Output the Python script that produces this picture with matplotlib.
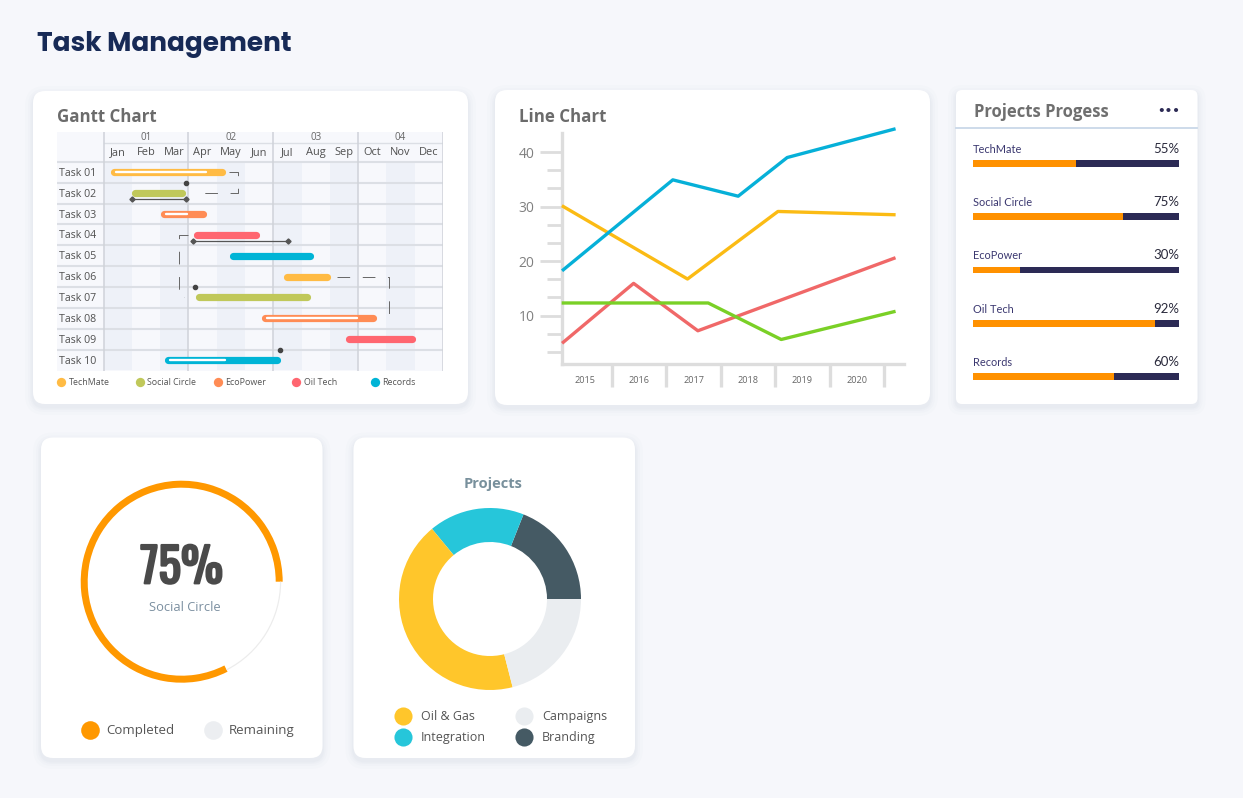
import matplotlib
matplotlib.use('Agg')
import matplotlib.pyplot as plt
from matplotlib.patches import FancyBboxPatch
import matplotlib.patheffects as pe
import numpy as np

# ---------------- data ----------------
months = ['Jan', 'Feb', 'Mar', 'Apr', 'May', 'Jun', 'Jul', 'Aug', 'Sep', 'Oct', 'Nov', 'Dec']
quarters = ['01', '02', '03', '04']
tasks = ['Task 01', 'Task 02', 'Task 03', 'Task 04', 'Task 05',
         'Task 06', 'Task 07', 'Task 08', 'Task 09', 'Task 10']
task_start = [0.25, 0.99, 2.02, 3.16, 4.45, 6.36, 3.24, 5.58, 8.54, 2.16]   # months from Jan 1
task_end = [4.32, 2.91, 3.65, 5.51, 7.42, 8.03, 7.33, 9.64, 11.02, 6.24]
task_project = [0, 1, 2, 3, 4, 0, 1, 2, 3, 4]
task_progress = [3.62, None, 2.95, None, None, None, None, 8.96, None, 4.29]
task_span = {1: (0.99, 2.91), 3: (3.16, 6.51)}           # underline spans
task_dot = {1: 2.91, 6: 3.24, 9: 6.24}                   # milestone dots
dependencies = [
    [(4.43, 0), (4.76, 0), (4.76, 1), (3.2, 1)],
    [(3.0, 3), (2.66, 3), (2.66, 6), (2.85, 6)],
    [(8.26, 5), (10.1, 5), (10.1, 7)],
]
projects = ['TechMate', 'Social Circle', 'EcoPower', 'Oil Tech', 'Records']
project_colors = ['#ffbb44', '#c0c85a', '#ff8c55', '#ff6670', '#00b4d6']

years = ['2015', '2016', '2017', '2018', '2019', '2020']
blue_x = [2014.61, 2016.62, 2017.82, 2018.72, 2020.68]
blue_y = [18.4, 34.9, 31.9, 39.0, 44.2]
yellow_x = [2014.61, 2016.89, 2018.55, 2020.68]
yellow_y = [30.0, 16.7, 29.1, 28.5]
red_x = [2014.61, 2015.90, 2017.08, 2020.68]
red_y = [5.1, 15.9, 7.2, 20.5]
green_x = [2014.61, 2017.27, 2018.61, 2020.68]
green_y = [12.3, 12.3, 5.6, 10.7]

progress_names = ['TechMate', 'Social Circle', 'EcoPower', 'Oil Tech', 'Records']
progress_labels = ['55%', '75%', '30%', '92%', '60%']
progress_fill = [0.50, 0.728, 0.227, 0.88, 0.684]

gauge_label = '75%'
gauge_name = 'Social Circle'
gauge_arc = [82.5, 17.5]
gauge_legend = ['Completed', 'Remaining']

donut_names = ['Branding', 'Integration', 'Oil & Gas', 'Campaigns']
donut_values = [19, 17, 43, 21]
donut_colors = ['#455a64', '#26c6da', '#ffc62b', '#eaedf0']
donut_legend = ['Oil & Gas', 'Campaigns', 'Integration', 'Branding']

# ---------------- figure ----------------
W, H = 1243, 798
fig = plt.figure(figsize=(W / 100, H / 100), dpi=100)
fig.patch.set_facecolor('#f6f7fb')
FONT = ['Open Sans', 'DejaVu Sans']
plt.rcParams['font.family'] = FONT

bg = fig.add_axes([0, 0, 1, 1])
bg.set_xlim(0, W)
bg.set_ylim(H, 0)
bg.axis('off')


def px_axes(x0, y0, x1, y1, z=2):
    a = fig.add_axes([x0 / W, 1 - y1 / H, (x1 - x0) / W, (y1 - y0) / H])
    a.set_zorder(z)
    return a


def card(x0, y0, x1, y1, r=12):
    for d, a in [(8, 0.018), (5, 0.025), (3, 0.03), (1.5, 0.035)]:
        bg.add_patch(FancyBboxPatch((x0 - d, y0 - d + 3), x1 - x0 + 2 * d, y1 - y0 + 2 * d,
                                    boxstyle=f"round,pad=0,rounding_size={r + d}",
                                    fc='#8c95b5', ec='none', alpha=a))
    bg.add_patch(FancyBboxPatch((x0, y0), x1 - x0, y1 - y0,
                                boxstyle=f"round,pad=0,rounding_size={r}",
                                fc='white', ec='none'))


card(33, 91, 468, 404)
card(495, 90, 930, 405)
card(956, 90, 1197.5, 404, r=6)
card(41, 437.5, 322.5, 758)
card(353.5, 437.5, 635, 758)

bg.text(37, 50.5, 'Task Management', fontsize=19, fontweight='bold', color='#172a56',
        family=['Poppins', 'Inter', 'DejaVu Sans'], va='baseline')

TITLE_C = '#6b6b6b'
bg.text(57, 122.3, 'Gantt Chart', fontsize=12.2, fontweight='bold', color=TITLE_C, va='baseline')
bg.text(519, 122.3, 'Line Chart', fontsize=12.2, fontweight='bold', color=TITLE_C, va='baseline')

# ---------------- Gantt ----------------
G_TOP = -1.913
ag = px_axes(57, 132.3, 443, 370.5)
ag.set_xlim(-1.65, 12)
ag.set_ylim(9.5, G_TOP)
ag.axis('off')
ag.bar(5.175, 9.5 - G_TOP, bottom=G_TOP, width=13.65, color='#f7f8fc', zorder=0)
ag.bar(np.arange(0, 12, 2) + 0.5, 10, bottom=-0.5, width=1, color='#eef1f8', zorder=0.5)
for k in range(10):
    ag.plot([-1.65, 12], [k - 0.5, k - 0.5], color='#dcdfe5', lw=1.5, zorder=1)
ag.plot([0, 12], [-1.415, -1.415], color='#dcdfe5', lw=1.0, zorder=1)
for q in range(5):
    ag.plot([3 * q, 3 * q], [G_TOP, 9.5], color='#cfd2d9', lw=1.1, zorder=1)
for m, name in enumerate(months):
    ag.text(m + 0.5, -0.96, name, ha='center', va='center', fontsize=7.9, color='#505050')
for q, name in enumerate(quarters):
    ag.text(3 * q + 1.5, -1.66, name, ha='center', va='center', fontsize=7.0, color='#666666')
for i, name in enumerate(tasks):
    ag.text(-1.58, i + 0.05, name, ha='left', va='center', fontsize=7.7, color='#505050')

cap = 3.5 / 28.28
for i in range(len(tasks)):
    c = project_colors[task_project[i]]
    ag.plot([task_start[i] + cap, task_end[i] - cap], [i, i], color=c, lw=5.2,
            solid_capstyle='round', zorder=4)
    if task_progress[i] is not None:
        ag.plot([task_start[i] + 0.2, task_progress[i]], [i, i], color='white', lw=1.7,
                solid_capstyle='round', zorder=5)
for i, (s, e) in task_span.items():
    ag.plot([s, e], [i + 0.28, i + 0.28], color='#555555', lw=0.9, zorder=4,
            marker='D', markersize=2.6, markevery=[0, 1])
for i, xv in task_dot.items():
    ag.plot([xv], [i - 0.5], marker='o', markersize=3.0, color='#444444', zorder=5)
for path in dependencies:
    xs, ys = zip(*path)
    ag.plot(xs, ys, color='#666666', lw=0.7, linestyle=(0, (13, 13)), zorder=3)

legend_x = [61.3, 139.7, 218, 296.3, 374.7]
for k, name in enumerate(projects):
    bg.scatter([legend_x[k]], [382], s=45, color=project_colors[k], zorder=3, linewidths=0)
    bg.text(legend_x[k] + 7.5, 382.3, name, fontsize=6.4, color='#555555', va='center', zorder=3)

# ---------------- Line chart ----------------
al = px_axes(561.7, 133, 904.3, 364)
al.set_xlim(2014.58, 2020.87)
al.set_ylim(1.1, 43.5)
al.set_facecolor('none')
for s in ['top', 'right']:
    al.spines[s].set_visible(False)
for s in ['left', 'bottom']:
    al.spines[s].set_color('#dddddd')
    al.spines[s].set_linewidth(2.4)
al.set_yticks([10, 20, 30, 40])
al.set_yticks([10 / 3 * k for k in range(1, 12) if k % 3 != 0], minor=True)
al.tick_params(axis='y', which='major', length=15.5, width=2.0, color='#dddddd',
               labelsize=10, labelcolor='#808080', pad=4)
al.tick_params(axis='y', which='minor', length=11, width=2.0, color='#dddddd')
al.set_xticks([2015.5 + k for k in range(6)])
al.set_xticklabels([])
al.set_xticks([2015 + k for k in range(6)], minor=True)
al.set_xticklabels(years, minor=True)
al.tick_params(axis='x', which='major', length=16.5, width=2.4, color='#dddddd')
al.tick_params(axis='x', which='minor', length=0, labelsize=6.6, labelcolor='#666666', pad=8.5)
LW = 2.4
al.plot(red_x, red_y, color='#f06868', lw=LW, zorder=3, clip_on=False)
al.plot(green_x, green_y, color='#7ad026', lw=LW, zorder=3, clip_on=False)
al.plot(yellow_x, yellow_y, color='#fbbb14', lw=LW, zorder=3, clip_on=False)
al.plot(blue_x, blue_y, color='#06b0d8', lw=LW, zorder=3, clip_on=False)

# ---------------- Projects progress ----------------
bg.text(974.3, 117.3, 'Projects Progess', fontsize=12, fontweight='bold', color='#6f6f6f',
        va='baseline')
bg.text(1180, 111.3, '\u2022\u2022\u2022', fontsize=8.5, fontweight='bold', color='#2d2b55',
        ha='right', va='center', family=['DejaVu Sans'])
bg.plot([956, 1197.5], [128.3, 128.3], color='#c9d8e8', lw=1.3)
ap = px_axes(973.3, 136.8, 1179.3, 136.8 + 53.3 * 5)
ap.set_xlim(0, 1)
ap.set_ylim(5, 0)
ap.axis('off')
idx = np.arange(len(progress_names))
ap.barh(idx + 0.5, [1.0] * len(idx), height=0.125, color='#2c2a55')
ap.barh(idx + 0.5, progress_fill, height=0.125, color='#ff9100')
for i in idx:
    ap.text(0, i + 0.298, progress_names[i], fontsize=7.9, color='#3b3870',
            family=['Lato', 'DejaVu Sans'], va='baseline')
    ap.text(1, i + 0.298, progress_labels[i], fontsize=9.5, color='#2a2a3c',
            family=['Lato', 'DejaVu Sans'], va='baseline', ha='right')

# ---------------- Gauge ----------------
cx, cy, R = 181.7, 581.7, 101
ak = px_axes(cx - 110, cy - 110, cx + 110, cy + 110)
ak.pie(gauge_arc, radius=1, startangle=0, counterclock=True, colors=['#ff9800', 'none'],
       wedgeprops=dict(width=7 / R, linewidth=0))
ak.pie(gauge_arc, radius=0.985, startangle=0, counterclock=True,
       colors=['none', '#ececec'], wedgeprops=dict(width=0.012, linewidth=0))
ak.set_xlim(-110 / R, 110 / R)
ak.set_ylim(-110 / R, 110 / R)
ak.set_aspect('equal')
bg.text(cx, 583.3, gauge_label, fontsize=34, color='#4a4a4a', ha='center', va='baseline',
        family=['Oswald', 'Liberation Sans Narrow', 'DejaVu Sans'], fontstretch='condensed',
        fontweight='bold', zorder=5,
        path_effects=[pe.withStroke(linewidth=1.6, foreground='#4a4a4a')])
bg.text(cx + 3, 607.7, gauge_name, fontsize=9.3, color='#7b8fa0', ha='center', va='center',
        zorder=5)
for x0, name, c in [(90, gauge_legend[0], '#ff9800'), (212.7, gauge_legend[1], '#eceef1')]:
    bg.scatter([x0], [730], s=180, color=c, linewidths=0, zorder=3)
    bg.text(x0 + 16.5, 730.5, name, fontsize=9.5, color='#555555', va='center', zorder=3)

# ---------------- Donut ----------------
dx, dy, DR = 490, 599, 91
ad = px_axes(dx - 100, dy - 100, dx + 100, dy + 100)
ad.pie(donut_values, radius=1, startangle=0, counterclock=True, colors=donut_colors,
       wedgeprops=dict(width=34 / DR, linewidth=0))
ad.set_xlim(-100 / DR, 100 / DR)
ad.set_ylim(-100 / DR, 100 / DR)
ad.set_aspect('equal')
bg.text(493.3, 484, 'Projects', fontsize=10.5, fontweight='bold', color='#78909c',
        ha='center', va='center')
leg_pos = [(402.7, 715.7), (524, 715.7), (402.7, 736.7), (524, 736.7)]
for (lx, ly), name in zip(leg_pos, donut_legend):
    c = donut_colors[donut_names.index(name)]
    bg.scatter([lx], [ly], s=170, color=c, linewidths=0, zorder=3)
    bg.text(lx + 18, ly + 0.5, name, fontsize=9.0, color='#555555', va='center', zorder=3)

fig.savefig('out.png', dpi=100, facecolor=fig.get_facecolor())
